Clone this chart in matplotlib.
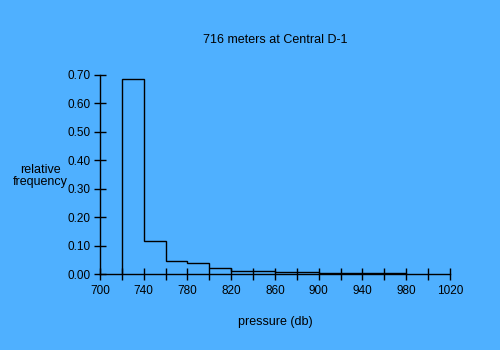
import matplotlib
matplotlib.use('Agg')
import matplotlib.pyplot as plt
import numpy as np

# histogram data
bin_edges = [720, 740, 760, 780, 800, 820, 840, 860, 880, 900, 920, 940, 960, 980]
rel_freq = [0.685, 0.115, 0.046, 0.039, 0.020, 0.012, 0.012, 0.006, 0.006, 0.003, 0.002, 0.002, 0.002]

x_ticks = np.arange(700, 1021, 20)
x_labels = [str(v) if (v - 700) % 40 == 0 else '' for v in x_ticks]
y_ticks = np.arange(0, 0.71, 0.1)

bg = '#4FB0FF'
plt.rcParams['font.family'] = ['Liberation Sans', 'DejaVu Sans']

fig = plt.figure(figsize=(5, 3.5), dpi=100, facecolor=bg)
ax = fig.add_axes([0.2, 0.217, 0.7, 0.569])
ax.set_facecolor(bg)

ax.stairs(rel_freq, bin_edges, baseline=0, fill=False, color='black', linewidth=1.0)

ax.set_xlim(700, 1020)
ax.set_ylim(0, 0.70)
ax.set_xticks(x_ticks)
ax.set_xticklabels(x_labels)
ax.set_yticks(y_ticks)
ax.set_yticklabels([f'{v:.2f}' for v in y_ticks])
ax.tick_params(direction='inout', length=8, width=1, labelsize=8.5, colors='black')
ax.tick_params(axis='x', pad=4)
ax.tick_params(axis='y', pad=3)

for s in ['top', 'right']:
    ax.spines[s].set_visible(False)
for s in ['left', 'bottom']:
    ax.spines[s].set_linewidth(1)

fig.text(0.55, 0.886, '716 meters at Central D-1', ha='center', va='center', fontsize=9)
fig.text(0.55, 0.08, 'pressure (db)', ha='center', va='center', fontsize=9)
fig.text(0.08, 0.496, 'relative\nfrequency', ha='center', va='center', fontsize=9, linespacing=1.0)

fig.savefig('out.png', dpi=100, facecolor=bg)
